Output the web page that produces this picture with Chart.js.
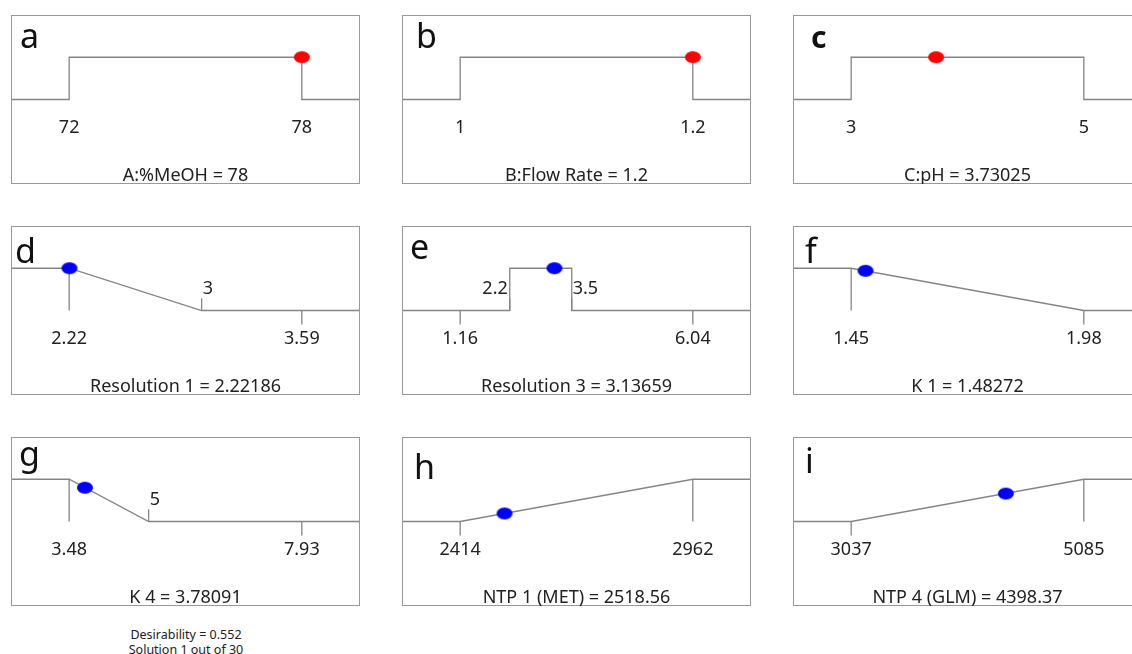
<!DOCTYPE html>
<html>
<head>
<meta charset="utf-8">
<script src="https://cdn.jsdelivr.net/npm/chart.js@4/dist/chart.umd.min.js"></script>
<style>
  html, body { margin: 0; padding: 0; background: #fff; width: 1132px; height: 654px; overflow: hidden; }
  .panel { position: absolute; width: 349px; height: 169px; }
  #footer { position: absolute; left: 86px; top: 627px; width: 200px; text-align: center;
            font: 12.5px "Noto Sans", sans-serif; line-height: 15px; color: #222; }
</style>
</head>
<body>
<div id="panels"></div>
<div id="footer">Desirability = 0.552<br>Solution 1 out of 30</div>
<script>
// values
const panelLetters = ['a', 'b', 'c', 'd', 'e', 'f', 'g', 'h', 'i'];
const panelTitles = ['A:%MeOH = 78', 'B:Flow Rate = 1.2', 'C:pH = 3.73025',
    'Resolution 1 = 2.22186', 'Resolution 3 = 3.13659', 'K 1 = 1.48272',
    'K 4 = 3.78091', 'NTP 1 (MET) = 2518.56', 'NTP 4 (GLM) = 4398.37'];
const rangeLow = [72, 1, 3, 2.22, 1.16, 1.45, 3.48, 2414, 3037];
const rangeHigh = [78, 1.2, 5, 3.59, 6.04, 1.98, 7.93, 2962, 5085];
const lowLabels = ['72', '1', '3', '2.22', '1.16', '1.45', '3.48', '2414', '3037'];
const highLabels = ['78', '1.2', '5', '3.59', '6.04', '1.98', '7.93', '2962', '5085'];
const isFactor = [true, true, true, false, false, false, false, false, false];
const solutionX = [78, 1.2, 3.73025, 2.22186, 3.13659, 1.48272, 3.78091, 2518.56, 4398.37];
const solutionD = [1, 1, 1, 1, 1, 0.94, 0.8, 0.19, 0.66];

// desirability ramp break points (x, d)
const curveX = [[72, 72, 78, 78], [1, 1, 1.2, 1.2], [3, 3, 5, 5], [2.22, 3],
    [2.2, 2.2, 3.5, 3.5], [1.45, 1.98], [3.48, 5], [2414, 2962], [3037, 5085]];
const curveY = [[0, 1, 1, 0], [0, 1, 1, 0], [0, 1, 1, 0], [1, 0],
    [0, 1, 1, 0], [1, 0], [1, 0], [0, 1], [0, 1]];
// vertical drop line from d=1 at a range end
const dropX = [null, null, null, 2.22, null, 1.45, 3.48, 2962, 5085];
// range ends that get a tick below the baseline
const tickBelow = [[], [], [], [3.59], [1.16, 6.04], [1.98], [7.93], [2414], [3037]];
// goal limits marked inside the plot
const limitX = [[], [], [], [3], [2.2, 3.5], [], [5], [], []];
const limitLabels = [[], [], [], ['3'], ['2.2', '3.5'], [], ['5'], [], []];

// layout only
const colLeft = [11, 402, 793];
const rowTop = [15, 226, 437];
const letterPos = [[9, 33], [14, 33], [18, 33], [4, 37], [8, 33], [12, 37], [8, 29], [12, 42], [12, 36]];
const limitAlign = [[], [], [], ['left'], ['right', 'left'], [], ['left'], [], []];
const LINE = '#858585';
const FONT = '"Noto Sans", sans-serif';

function makeDot(color) {
    const c = document.createElement('canvas');
    c.width = 18; c.height = 14;
    const g = c.getContext('2d');
    g.beginPath();
    g.ellipse(9, 7, 8, 6, 0, 0, Math.PI * 2);
    g.fillStyle = color;
    g.fill();
    return c;
}
const redDot = makeDot('#ff0000');
const blueDot = makeDot('#0000ff');

const panelText = {
    id: 'panelText',
    afterDraw(chart) {
        const i = chart.options.plugins.panelText.index;
        const ctx = chart.ctx;
        const a = chart.chartArea;
        const xs = chart.scales.x, ys = chart.scales.y;
        ctx.save();
        ctx.strokeStyle = '#999';
        ctx.lineWidth = 1;
        ctx.strokeRect(a.left + 0.5, a.top + 0.5, a.right - a.left - 1, a.bottom - a.top - 1);

        ctx.fillStyle = '#111';
        ctx.textBaseline = 'alphabetic';
        ctx.font = (i === 2 ? 'bold 30px ' : '34px ') + FONT;
        ctx.textAlign = 'left';
        ctx.fillText(panelLetters[i], a.left + letterPos[i][0], a.top + letterPos[i][1]);

        ctx.fillStyle = '#222';
        ctx.font = '18px ' + FONT;
        ctx.textAlign = 'center';
        const yl = ys.getPixelForValue(-0.8);
        ctx.fillText(lowLabels[i], xs.getPixelForValue(rangeLow[i]), yl);
        ctx.fillText(highLabels[i], xs.getPixelForValue(rangeHigh[i]), yl);
        ctx.fillText(panelTitles[i], (a.left + a.right) / 2, ys.getPixelForValue(-1.92));

        limitX[i].forEach((v, k) => {
            const al = limitAlign[i][k];
            ctx.textAlign = al;
            const px = xs.getPixelForValue(v) + (al === 'left' ? 1 : -2);
            ctx.fillText(limitLabels[i][k], px, ys.getPixelForValue(0.4));
        });
        ctx.restore();
    }
};

function buildPanel(i) {
    const span = rangeHigh[i] - rangeLow[i];
    const xmin = rangeLow[i] - span / 4;
    const xmax = rangeHigh[i] + span / 4;
    const cx = curveX[i], cy = curveY[i];

    const curve = [{ x: xmin, y: cy[0] }];
    cx.forEach((v, k) => curve.push({ x: v, y: cy[k] }));
    curve.push({ x: xmax, y: cy[cy.length - 1] });

    const marks = [];
    if (dropX[i] !== null) {
        marks.push({ x: dropX[i], y: 1 }, { x: dropX[i], y: 0 }, { x: dropX[i], y: null });
    }
    tickBelow[i].forEach(v => marks.push({ x: v, y: 0 }, { x: v, y: -0.33 }, { x: v, y: null }));
    limitX[i].forEach(v => marks.push({ x: v, y: 0 }, { x: v, y: 0.29 }, { x: v, y: null }));

    const div = document.createElement('div');
    div.className = 'panel';
    div.style.left = colLeft[i % 3] + 'px';
    div.style.top = rowTop[Math.floor(i / 3)] + 'px';
    const cv = document.createElement('canvas');
    cv.width = 349; cv.height = 169;
    div.appendChild(cv);
    document.getElementById('panels').appendChild(div);

    new Chart(cv, {
        type: 'scatter',
        data: {
            datasets: [
                { data: curve, showLine: true, borderColor: LINE, borderWidth: 1.3, pointRadius: 0, tension: 0, order: 2 },
                { data: marks, showLine: true, spanGaps: false, borderColor: LINE, borderWidth: 1.3, pointRadius: 0, order: 1 },
                {
                    data: [{ x: solutionX[i], y: solutionD[i] }],
                    pointStyle: isFactor[i] ? redDot : blueDot,
                    pointRadius: 8,
                    order: 0
                }
            ]
        },
        options: {
            responsive: false,
            animation: false,
            devicePixelRatio: 1,
            layout: { padding: 0, autoPadding: false },
            events: [],
            scales: {
                x: { type: 'linear', min: xmin, max: xmax, display: false },
                y: { type: 'linear', min: -2, max: 2, display: false }
            },
            plugins: {
                legend: { display: false },
                tooltip: { enabled: false },
                panelText: { index: i }
            }
        },
        plugins: [panelText]
    });
}

for (let i = 0; i < 9; i++) buildPanel(i);
</script>
</body>
</html>
